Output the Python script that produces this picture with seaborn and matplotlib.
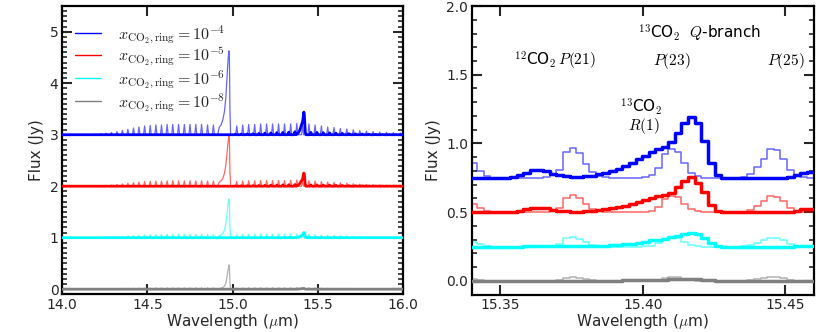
import numpy as np
import pandas as pd
import matplotlib
matplotlib.use("Agg")
import matplotlib.pyplot as plt
import seaborn as sns
from matplotlib.lines import Line2D
from matplotlib.ticker import MultipleLocator

sns.set_theme(style="ticks")
plt.rcParams["font.family"] = ["DejaVu Sans"]
plt.rcParams["mathtext.fontset"] = "cm"

# ---------------- data ----------------
models = ["1e-4", "1e-5", "1e-6", "1e-8"]
labels = [r"$x_{\rm CO_2,ring}=10^{-4}$", r"$x_{\rm CO_2,ring}=10^{-5}$",
          r"$x_{\rm CO_2,ring}=10^{-6}$", r"$x_{\rm CO_2,ring}=10^{-8}$"]
colors = ["blue", "red", "cyan", "gray"]
offset_left = [3.0, 2.0, 1.0, 0.0]
offset_right = [0.75, 0.5, 0.25, 0.0]

# Left panel: 12CO2 lines (R and P branch) centres [um] and peak heights [Jy]
lines12_wl = [14.164, 14.195, 14.227, 14.258, 14.290, 14.322, 14.354, 14.386, 14.419, 14.451,
              14.484, 14.517, 14.550, 14.583, 14.616, 14.649, 14.683, 14.717, 14.750, 14.784,
              14.818, 14.853, 14.887,
              15.024, 15.059, 15.094, 15.129, 15.164, 15.199, 15.234, 15.269, 15.304, 15.340,
              15.376, 15.410, 15.447, 15.483, 15.520, 15.557, 15.594, 15.631, 15.669, 15.707,
              15.745, 15.784, 15.823, 15.862, 15.902, 15.942, 15.982]
lines12_blue = [0.005, 0.01, 0.02, 0.03, 0.045, 0.06, 0.085, 0.105, 0.13, 0.15, 0.17, 0.18, 0.19,
                0.19, 0.2, 0.2, 0.2, 0.2, 0.2, 0.2, 0.2, 0.19, 0.19,
                0.17, 0.19, 0.2, 0.2, 0.21, 0.21, 0.21, 0.21, 0.21, 0.21, 0.22, 0.21, 0.21, 0.19,
                0.17, 0.15, 0.14, 0.12, 0.11, 0.095, 0.08, 0.07, 0.06, 0.05, 0.045, 0.04, 0.035]
lines12_red = [0.002, 0.005, 0.01, 0.016, 0.024, 0.033, 0.045, 0.056, 0.07, 0.08, 0.09, 0.097, 0.1,
               0.1, 0.105, 0.105, 0.105, 0.105, 0.105, 0.105, 0.105, 0.1, 0.1,
               0.09, 0.1, 0.105, 0.105, 0.11, 0.11, 0.11, 0.11, 0.11, 0.115, 0.12, 0.115, 0.11, 0.1,
               0.09, 0.08, 0.072, 0.064, 0.056, 0.048, 0.04, 0.035, 0.03, 0.026, 0.022, 0.02, 0.017]
lines12_cyan = [0.001, 0.003, 0.006, 0.01, 0.015, 0.02, 0.028, 0.035, 0.043, 0.05, 0.056, 0.06,
                0.063, 0.063, 0.066, 0.066, 0.066, 0.066, 0.066, 0.066, 0.066, 0.063, 0.063,
                0.056, 0.063, 0.066, 0.066, 0.069, 0.069, 0.069, 0.069, 0.069, 0.07, 0.073, 0.07,
                0.068, 0.062, 0.055, 0.048, 0.043, 0.038, 0.033, 0.028, 0.024, 0.02, 0.017, 0.015,
                0.013, 0.011, 0.01]
lines12_grey = [0.0, 0.001, 0.002, 0.004, 0.006, 0.008, 0.011, 0.014, 0.017, 0.02, 0.022, 0.024,
                0.025, 0.025, 0.026, 0.026, 0.026, 0.026, 0.026, 0.026, 0.026, 0.025, 0.025,
                0.022, 0.025, 0.026, 0.026, 0.027, 0.027, 0.027, 0.027, 0.027, 0.027, 0.029, 0.027,
                0.027, 0.025, 0.022, 0.019, 0.017, 0.015, 0.013, 0.011, 0.009, 0.008, 0.007, 0.006,
                0.005, 0.004, 0.004]

# 12CO2 Q-branch profile
q12_wl = [14.912, 14.922, 14.932, 14.942, 14.952, 14.960, 14.967, 14.973, 14.978, 14.981, 14.984, 14.988]
q12_blue = [0, 0.15, 0.19, 0.28, 0.45, 0.72, 1.1, 1.45, 1.63, 1.5, 0.5, 0]
q12_red = [0, 0.08, 0.1, 0.15, 0.25, 0.41, 0.64, 0.86, 0.97, 0.9, 0.3, 0]
q12_cyan = [0, 0.04, 0.05, 0.08, 0.15, 0.27, 0.46, 0.66, 0.75, 0.7, 0.22, 0]
q12_grey = [0, 0.01, 0.02, 0.03, 0.06, 0.12, 0.24, 0.38, 0.47, 0.43, 0.13, 0]

# 13CO2 lines
lines13_wl = [15.016, 15.050, 15.085, 15.120, 15.154, 15.189, 15.224, 15.259, 15.294, 15.329, 15.365,
              15.458, 15.494, 15.531, 15.568, 15.605, 15.643, 15.681, 15.720, 15.759, 15.798, 15.838,
              15.878, 15.918, 15.958]
lines13_blue = [0.01, 0.012, 0.015, 0.02, 0.025, 0.03, 0.035, 0.04, 0.045, 0.05, 0.058, 0.045, 0.045,
                0.04, 0.035, 0.03, 0.025, 0.02, 0.016, 0.013, 0.01, 0.008, 0.006, 0.005, 0.004]
lines13_red = [0.005, 0.007, 0.008, 0.011, 0.014, 0.017, 0.02, 0.022, 0.025, 0.028, 0.032, 0.025, 0.025,
               0.022, 0.02, 0.017, 0.014, 0.011, 0.009, 0.007, 0.005, 0.004, 0.003, 0.003, 0.002]
lines13_cyan = [0.001, 0.001, 0.002, 0.002, 0.003, 0.003, 0.004, 0.004, 0.005, 0.005, 0.006, 0.005,
                0.005, 0.004, 0.004, 0.003, 0.003, 0.002, 0.002, 0.001, 0.001, 0.001, 0.001, 0.0, 0.0]
lines13_grey = [0.0, 0.0, 0.0, 0.0, 0.0, 0.0, 0.0, 0.0, 0.0, 0.0, 0.001, 0.0, 0.0, 0.0, 0.0, 0.0, 0.0,
                0.0, 0.0, 0.0, 0.0, 0.0, 0.0, 0.0, 0.0]

# 13CO2 Q-branch profile
q13_wl = [15.372, 15.380, 15.388, 15.396, 15.403, 15.409, 15.413, 15.417, 15.420, 15.423, 15.426, 15.430]
q13_blue = [0, 0.02, 0.05, 0.11, 0.19, 0.24, 0.33, 0.44, 0.40, 0.2, 0.04, 0]
q13_red = [0, 0.01, 0.03, 0.065, 0.105, 0.13, 0.19, 0.255, 0.23, 0.12, 0.02, 0]
q13_cyan = [0, 0.005, 0.012, 0.025, 0.043, 0.055, 0.075, 0.10, 0.095, 0.06, 0.01, 0]
q13_grey = [0, 0.001, 0.003, 0.005, 0.008, 0.010, 0.012, 0.013, 0.012, 0.007, 0.002, 0]

# Right panel: binned spectra (bin centres in um), excess flux over offset
right_wl = [15.3385, 15.3408, 15.3431, 15.3454, 15.3477, 15.3501, 15.3524, 15.3547, 15.3570, 15.3593,
            15.3616, 15.3639, 15.3662, 15.3685, 15.3708, 15.3732, 15.3755, 15.3778, 15.3801, 15.3824,
            15.3847, 15.3870, 15.3893, 15.3916, 15.3939, 15.3963, 15.3986, 15.4009, 15.4032, 15.4055,
            15.4078, 15.4101, 15.4124, 15.4147, 15.4170, 15.4194, 15.4217, 15.4240, 15.4263, 15.4286,
            15.4309, 15.4332, 15.4355, 15.4378, 15.4401, 15.4425, 15.4448, 15.4471, 15.4494, 15.4517,
            15.4540, 15.4563, 15.4586, 15.4609]
thin_blue = [0.21, 0.11, 0.05, 0.015, 0, 0, 0, 0, 0, 0, 0, 0, 0.005, 0.02, 0.06, 0.19, 0.22, 0.18,
             0.10, 0.04, 0.015, 0.005, 0, 0, 0, 0, 0, 0.005, 0.02, 0.07, 0.17, 0.21, 0.19, 0.105,
             0.035, 0.01, 0, 0, 0, 0, 0, 0, 0.005, 0.03, 0.08, 0.14, 0.21, 0.20, 0.14, 0.06, 0.02,
             0.005, 0, 0]
thin_red = [0.12, 0.063, 0.028, 0.009, 0, 0, 0, 0, 0, 0, 0, 0, 0.003, 0.011, 0.034, 0.105, 0.125,
            0.1, 0.057, 0.023, 0.009, 0.003, 0, 0, 0, 0, 0, 0.003, 0.011, 0.04, 0.097, 0.12, 0.108,
            0.06, 0.02, 0.006, 0, 0, 0, 0, 0, 0, 0.003, 0.017, 0.046, 0.08, 0.115, 0.11, 0.08, 0.034,
            0.011, 0.003, 0, 0]
thin_cyan = [0.07, 0.036, 0.016, 0.005, 0, 0, 0, 0, 0, 0, 0, 0, 0.002, 0.007, 0.02, 0.062, 0.073,
             0.058, 0.033, 0.013, 0.005, 0.002, 0, 0, 0, 0, 0, 0.002, 0.007, 0.023, 0.056, 0.07,
             0.063, 0.035, 0.012, 0.003, 0, 0, 0, 0, 0, 0, 0.002, 0.01, 0.026, 0.045, 0.065, 0.063,
             0.045, 0.02, 0.007, 0.002, 0, 0]
thin_grey = [0.03, 0.015, 0.007, 0.002, 0, 0, 0, 0, 0, 0, 0, 0, 0, 0.003, 0.008, 0.025, 0.03, 0.024,
             0.014, 0.006, 0.002, 0, 0, 0, 0, 0, 0, 0, 0.003, 0.01, 0.024, 0.03, 0.027, 0.015, 0.005,
             0, 0, 0, 0, 0, 0, 0, 0, 0.004, 0.011, 0.02, 0.028, 0.027, 0.02, 0.008, 0.003, 0, 0, 0]
thick_blue = [0, 0, 0, 0, 0, 0, 0, 0.005, 0.02, 0.035, 0.055, 0.058, 0.05, 0.03, 0.018, 0.012, 0.008,
              0.008, 0.01, 0.015, 0.025, 0.035, 0.05, 0.065, 0.085, 0.11, 0.135, 0.16, 0.19, 0.21,
              0.227, 0.26, 0.325, 0.40, 0.44, 0.40, 0.265, 0.105, 0.02, 0, 0, 0, 0, 0, 0, 0, 0, 0, 0,
              0.008, 0.02, 0.035, 0.04, 0.04]
thick_red = [0, 0, 0, 0, 0, 0, 0, 0.003, 0.01, 0.02, 0.03, 0.032, 0.028, 0.018, 0.01, 0.007, 0.005,
             0.005, 0.006, 0.008, 0.014, 0.02, 0.028, 0.037, 0.048, 0.062, 0.077, 0.09, 0.105, 0.115,
             0.125, 0.14, 0.186, 0.225, 0.255, 0.215, 0.15, 0.055, 0.01, 0, 0, 0, 0, 0, 0, 0, 0, 0, 0,
             0.005, 0.012, 0.02, 0.022, 0.022]
thick_cyan = [0, 0, 0, 0, 0, 0, 0, 0, 0, 0.003, 0.005, 0.006, 0.005, 0.004, 0.003, 0.003, 0.003,
              0.003, 0.003, 0.004, 0.005, 0.007, 0.01, 0.013, 0.017, 0.022, 0.028, 0.034, 0.045, 0.05,
              0.055, 0.07, 0.075, 0.095, 0.10, 0.095, 0.06, 0.024, 0.005, 0, 0, 0, 0, 0, 0, 0, 0, 0, 0,
              0, 0.003, 0.005, 0.006, 0.006]
thick_grey = [0, 0, 0, 0, 0, 0, 0, 0, 0, 0, 0, 0, 0, 0, 0, 0, 0, 0, 0, 0, 0.001, 0.001, 0.002, 0.003,
              0.004, 0.005, 0.006, 0.007, 0.008, 0.009, 0.01, 0.011, 0.012, 0.013, 0.013, 0.012, 0.009,
              0.004, 0.001, 0, 0, 0, 0, 0, 0, 0, 0, 0, 0, 0, 0, 0, 0, 0]

lines12 = [lines12_blue, lines12_red, lines12_cyan, lines12_grey]
q12 = [q12_blue, q12_red, q12_cyan, q12_grey]
lines13 = [lines13_blue, lines13_red, lines13_cyan, lines13_grey]
q13 = [q13_blue, q13_red, q13_cyan, q13_grey]
thin_r = [thin_blue, thin_red, thin_cyan, thin_grey]
thick_r = [thick_blue, thick_red, thick_cyan, thick_grey]


def spectrum(centers, heights, qx, qy, base, hw=0.006, lo=14.0, hi=16.0):
    pts = []
    for c, h in zip(centers, heights):
        pts += [(c - hw, 0.0), (c, h), (c + hw, 0.0)]
    pts += list(zip(qx, qy))
    pts.sort()
    xs = [lo] + [p[0] for p in pts] + [hi]
    ys = [base] + [base + p[1] for p in pts] + [base]
    return pd.DataFrame({"wl": xs, "flux": ys})


fig = plt.figure(figsize=(8.3, 3.32), dpi=100)
axL = fig.add_axes([0.0747, 0.1135, 0.4112, 0.8684])
axR = fig.add_axes([0.5683, 0.1123, 0.4124, 0.8696])

# ---- left panel ----
for i in range(4):
    d_thin = spectrum(lines12_wl, lines12[i], q12_wl, q12[i], offset_left[i])
    sns.lineplot(data=d_thin, x="wl", y="flux", ax=axL, sort=False, estimator=None,
                 color=colors[i], lw=0.9, alpha=0.6, zorder=2)
    d_thick = spectrum(lines13_wl, lines13[i], q13_wl, q13[i], offset_left[i])
    sns.lineplot(data=d_thick, x="wl", y="flux", ax=axL, sort=False, estimator=None,
                 color=colors[i], lw=2.0, zorder=3)

# ---- right panel ----
for i in range(4):
    yt = [offset_right[i] + v for v in thin_r[i]]
    sns.lineplot(x=right_wl, y=yt, ax=axR, sort=False, estimator=None, drawstyle="steps-mid",
                 color=colors[i], lw=1.1, alpha=0.6, zorder=2)
    yk = [offset_right[i] + v for v in thick_r[i]]
    sns.lineplot(x=right_wl, y=yk, ax=axR, sort=False, estimator=None, drawstyle="steps-mid",
                 color=colors[i], lw=2.5, zorder=3)

axL.set_xlim(14.0, 16.0)
axL.set_ylim(-0.1, 5.5)
axL.set_xticks([14.0, 14.5, 15.0, 15.5, 16.0])
axL.set_yticks([0, 1, 2, 3, 4, 5])
axL.yaxis.set_minor_locator(MultipleLocator(0.1))

axR.set_xlim(15.34, 15.46)
axR.set_ylim(-0.1, 2.0)
axR.set_xticks([15.35, 15.40, 15.45])
axR.set_yticks([0.0, 0.5, 1.0, 1.5, 2.0])
axR.yaxis.set_minor_locator(MultipleLocator(0.1))

for ax in (axL, axR):
    ax.set_xlabel(r"Wavelength ($\mu$m)", fontsize=11, labelpad=0)
    ax.set_ylabel("Flux (Jy)", fontsize=11, labelpad=4)
    ax.tick_params(which="both", direction="in", top=True, right=True, labelsize=10)
    ax.tick_params(which="major", length=7, width=1.5, pad=2.5)
    ax.tick_params(which="minor", length=3.5, width=1.2)
    for s in ax.spines.values():
        s.set_linewidth(1.6)
        s.set_color("black")

handles = [Line2D([], [], color=c, lw=1.0) for c in colors]
axL.legend(handles, labels, loc="upper left", bbox_to_anchor=(0.01, 0.975), frameon=False,
           fontsize=11.5, handlelength=1.6, handletextpad=1.1, labelspacing=0.02,
           borderaxespad=0.2)

txt = dict(ha="center", va="center", fontsize=11, color="black")
axR.text(15.420, 1.80, r"$^{13}$CO$_2$  $Q$-branch", **txt)
axR.text(15.369, 1.60, r"$^{12}$CO$_2\,P(21)$", **txt)
axR.text(15.410, 1.60, r"$P(23)$", **txt)
axR.text(15.450, 1.60, r"$P(25)$", **txt)
axR.text(15.3995, 1.27, r"$^{13}$CO$_2$", **txt)
axR.text(15.4005, 1.13, r"$R(1)$", **txt)

fig.savefig("out.png", dpi=100)
